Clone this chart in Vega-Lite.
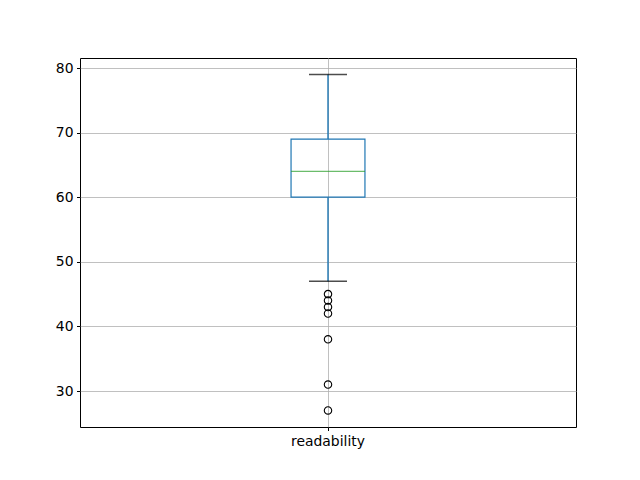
{
  "$schema": "https://vega.github.io/schema/vega-lite/v6.json",
  "width": 496,
  "height": 369,
  "autosize": {"type": "none"},
  "padding": {"left": 80, "top": 58, "right": 64, "bottom": 53},
  "background": "white",
  "config": {
    "view": {"stroke": "black", "strokeWidth": 1},
    "font": "DejaVu Sans",
    "axis": {
      "labelFont": "DejaVu Sans",
      "labelFontSize": 13.9,
      "labelColor": "black",
      "domainColor": "black",
      "tickColor": "black",
      "tickSize": 3.5,
      "labelPadding": 3.5,
      "gridColor": "#b0b0b0",
      "gridWidth": 0.8,
      "title": null
    }
  },
  "datasets": {
    "summary": [{"column": "readability", "lower": 47, "q1": 60, "median": 64, "q3": 69, "upper": 79}],
    "outliers": [
      {"column": "readability", "value": 45},
      {"column": "readability", "value": 44},
      {"column": "readability", "value": 43},
      {"column": "readability", "value": 42},
      {"column": "readability", "value": 38},
      {"column": "readability", "value": 31},
      {"column": "readability", "value": 27}
    ]
  },
  "encoding": {
    "x": {
      "field": "column",
      "type": "nominal",
      "scale": {"paddingInner": 0, "paddingOuter": 0},
      "axis": {"labelAngle": 0, "grid": true, "bandPosition": 0.5, "domain": false}
    }
  },
  "layer": [
    {
      "data": {"name": "summary"},
      "mark": {"type": "rule", "color": "#1f77b4", "strokeWidth": 1.4},
      "encoding": {
        "y": {"field": "lower", "type": "quantitative",
          "scale": {"domain": [24.43, 81.55], "nice": false, "zero": false},
          "axis": {"values": [30, 40, 50, 60, 70, 80], "grid": true, "domain": false}},
        "y2": {"field": "q1"}
      }
    },
    {
      "data": {"name": "summary"},
      "mark": {"type": "rule", "color": "#1f77b4", "strokeWidth": 1.4},
      "encoding": {
        "y": {"field": "q3", "type": "quantitative"},
        "y2": {"field": "upper"}
      }
    },
    {
      "data": {"name": "summary"},
      "mark": {"type": "bar", "fill": null, "fillOpacity": 0, "stroke": "#1f77b4", "strokeWidth": 1.2, "width": {"band": 0.149}},
      "encoding": {
        "y": {"field": "q1", "type": "quantitative"},
        "y2": {"field": "q3"}
      }
    },
    {
      "data": {"name": "summary"},
      "mark": {"type": "tick", "color": "#2ca02c", "thickness": 1.3, "size": 74, "orient": "horizontal"},
      "encoding": {
        "y": {"field": "median", "type": "quantitative"}
      }
    },
    {
      "data": {"name": "summary"},
      "mark": {"type": "tick", "color": "black", "thickness": 1.5, "size": 38, "orient": "horizontal"},
      "encoding": {
        "y": {"field": "upper", "type": "quantitative"}
      }
    },
    {
      "data": {"name": "summary"},
      "mark": {"type": "tick", "color": "black", "thickness": 1.5, "size": 38, "orient": "horizontal"},
      "encoding": {
        "y": {"field": "lower", "type": "quantitative"}
      }
    },
    {
      "data": {"name": "outliers"},
      "mark": {"type": "point", "shape": "circle", "filled": false, "stroke": "black", "strokeWidth": 1.1, "size": 55, "opacity": 1},
      "encoding": {
        "y": {"field": "value", "type": "quantitative"}
      }
    }
  ]
}
